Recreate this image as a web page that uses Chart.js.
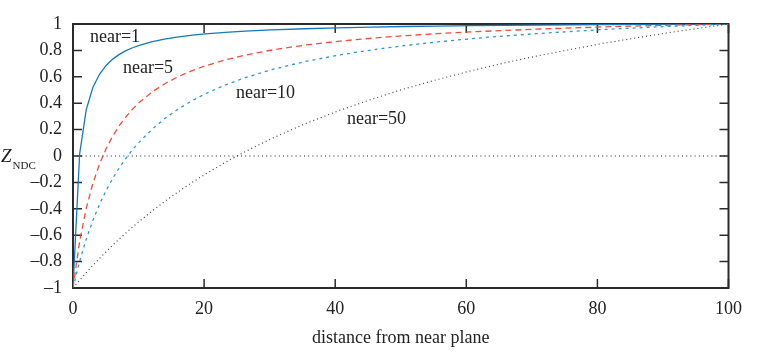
<!DOCTYPE html>
<html><head><meta charset="utf-8">
<script src="https://cdn.jsdelivr.net/npm/chart.js@4/dist/chart.umd.min.js"></script>
<style>html,body{margin:0;padding:0;background:#fff;}canvas{display:block;}</style>
</head><body>
<canvas id="c" width="771" height="357"></canvas>
<script>
// ---- data ----
const distance = [0, 1.01, 2.02, 3.03, 4.04, 5.05, 6.06, 7.07, 8.08, 9.09, 10.1, 12.12, 14.14, 16.16, 18.18, 20.2, 23.23, 26.26, 30.3, 35.35, 40.4, 45.45, 50.51, 55.56, 60.61, 65.66, 70.71, 80.81, 90.91, 100];
const near1  = [-1, 0.015, 0.351, 0.519, 0.619, 0.686, 0.734, 0.770, 0.798, 0.820, 0.838, 0.866, 0.887, 0.902, 0.915, 0.925, 0.937, 0.946, 0.955, 0.964, 0.971, 0.977, 0.981, 0.984, 0.987, 0.990, 0.992, 0.995, 0.998, 1.000];
const near5  = [-1, -0.647, -0.396, -0.208, -0.062, 0.055, 0.151, 0.230, 0.297, 0.355, 0.405, 0.487, 0.551, 0.604, 0.647, 0.683, 0.728, 0.764, 0.803, 0.840, 0.869, 0.892, 0.911, 0.927, 0.940, 0.951, 0.961, 0.978, 0.991, 1.000];
const near10 = [-1, -0.798, -0.630, -0.488, -0.367, -0.262, -0.170, -0.089, -0.017, 0.048, 0.105, 0.205, 0.289, 0.359, 0.419, 0.472, 0.538, 0.593, 0.654, 0.715, 0.763, 0.803, 0.836, 0.864, 0.888, 0.909, 0.927, 0.958, 0.982, 1.000];
const near50 = [-1, -0.941, -0.884, -0.829, -0.776, -0.725, -0.676, -0.628, -0.583, -0.538, -0.496, -0.415, -0.339, -0.267, -0.200, -0.137, -0.048, 0.033, 0.132, 0.243, 0.341, 0.428, 0.508, 0.579, 0.644, 0.703, 0.757, 0.853, 0.935, 1.000];
const zeroLineX = [0, 100];
const zeroLineY = [0, 0];
const seriesNames = ['near=1', 'near=5', 'near=10', 'near=50'];
const xTickValues = [0, 20, 40, 60, 80, 100];
const yTickValues = [-1, -0.8, -0.6, -0.4, -0.2, 0, 0.2, 0.4, 0.6, 0.8, 1];
const xTitle = 'distance from near plane';
const yTitleMain = 'Z';
const yTitleSub = 'NDC';

// ---- drawing ----
const FONT = '"Liberation Serif", "Times New Roman", serif';
const pts = (xs, ys) => xs.map((x, i) => ({x: x, y: ys[i]}));
const fmt = v => {
  if (Math.abs(v) < 1e-9) return '0';
  const s = String(parseFloat(Math.abs(v).toFixed(1)));
  return (v < 0 ? '\u2013' : '') + s;
};

const framePlugin = {
  id: 'frame',
  beforeDatasetsDraw(chart) {
    const {ctx, chartArea: a, scales: {x, y}} = chart;
    ctx.save();
    ctx.strokeStyle = '#2b2b2b';
    ctx.lineWidth = 2;
    ctx.strokeRect(a.left, a.top, a.right - a.left, a.bottom - a.top);
    ctx.lineWidth = 1.5;
    ctx.beginPath();
    xTickValues.forEach(v => {
      const px = x.getPixelForValue(v);
      ctx.moveTo(px, a.bottom); ctx.lineTo(px, a.bottom - 9);
      ctx.moveTo(px, a.top); ctx.lineTo(px, a.top + 9);
    });
    yTickValues.forEach(v => {
      const py = y.getPixelForValue(v);
      ctx.moveTo(a.left, py); ctx.lineTo(a.left + 9, py);
      ctx.moveTo(a.right, py); ctx.lineTo(a.right - 9, py);
    });
    ctx.stroke();
    ctx.restore();
  },
  afterDraw(chart) {
    const {ctx, chartArea: a} = chart;
    ctx.save();
    ctx.fillStyle = '#222';
    ctx.textBaseline = 'alphabetic';
    ctx.textAlign = 'left';
    ctx.font = '18px ' + FONT;
    const labelPos = [[90, 42], [123, 72.5], [236, 98], [347, 124]];
    seriesNames.forEach((n, i) => ctx.fillText(n, labelPos[i][0], labelPos[i][1]));
    ctx.textAlign = 'center';
    ctx.fillText(xTitle, (a.left + a.right) / 2, 343);
    ctx.textAlign = 'left';
    ctx.font = 'italic 19px ' + FONT;
    ctx.fillText(yTitleMain, 1, 162);
    ctx.font = '11px ' + FONT;
    ctx.fillText(yTitleSub, 12.5, 168.5);
    ctx.restore();
  }
};

const common = {pointRadius: 0, pointHoverRadius: 0, fill: false, tension: 0, borderWidth: 1.3};

new Chart(document.getElementById('c'), {
  type: 'line',
  data: {
    datasets: [
      Object.assign({}, common, {label: 'zero', data: pts(zeroLineX, zeroLineY), borderColor: '#222', borderDash: [1, 3.2], borderWidth: 1.1}),
      Object.assign({}, common, {label: seriesNames[3], data: pts(distance, near50), borderColor: '#444', borderDash: [1, 3], borderWidth: 1.2}),
      Object.assign({}, common, {label: seriesNames[2], data: pts(distance, near10), borderColor: '#2b97d2', borderDash: [3, 4]}),
      Object.assign({}, common, {label: seriesNames[1], data: pts(distance, near5), borderColor: '#ef4e3a', borderDash: [6, 4]}),
      Object.assign({}, common, {label: seriesNames[0], data: pts(distance, near1), borderColor: '#1677c1'})
    ]
  },
  options: {
    responsive: false,
    animation: false,
    devicePixelRatio: 1,
    layout: {padding: {top: 24, right: 42.5, left: 0, bottom: 0}},
    plugins: {legend: {display: false}, tooltip: {enabled: false}},
    scales: {
      x: {
        type: 'linear', min: 0, max: 100,
        grid: {display: false, drawTicks: false},
        border: {display: false},
        afterBuildTicks: s => { s.ticks = xTickValues.map(v => ({value: v})); },
        afterFit: s => { s.height = 69; },
        ticks: {font: {family: FONT, size: 18}, color: '#222', padding: 10, maxRotation: 0, callback: v => fmt(v)}
      },
      y: {
        type: 'linear', min: -1, max: 1,
        grid: {display: false, drawTicks: false},
        border: {display: false},
        afterBuildTicks: s => { s.ticks = yTickValues.map(v => ({value: v})); },
        afterFit: s => { s.width = 73; },
        ticks: {font: {family: FONT, size: 18}, color: '#222', padding: 11, callback: v => fmt(v)}
      }
    }
  },
  plugins: [framePlugin]
});
</script>
</body></html>
